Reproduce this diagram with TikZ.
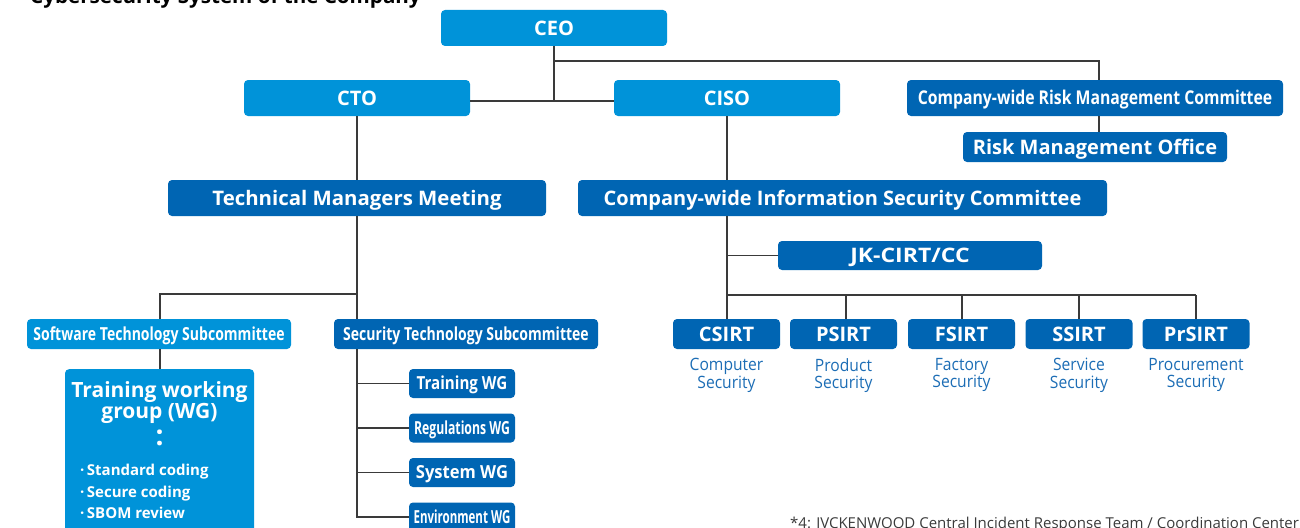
\documentclass[tikz,border=0pt]{standalone}
\usepackage{fontspec}
\setmainfont{Open Sans}
\usepackage{graphicx}
\definecolor{lblue}{HTML}{0093D9}
\definecolor{dblue}{HTML}{0065B3}
\definecolor{txtblue}{HTML}{1C6DB5}
\definecolor{linec}{HTML}{3A3A3A}
\tikzset{
  base/.style={rounded corners=4pt, text=white, inner sep=0pt, align=center, text depth=0pt},
  lbox/.style={base, fill=lblue},
  dbox/.style={base, fill=dblue},
  f20/.style={font=\bfseries\fontsize{20}{22}\selectfont, text height=14.3pt},
  f19/.style={font=\bfseries\fontsize{19}{22}\selectfont, text height=13.6pt},
  f18/.style={font=\bfseries\fontsize{18}{22}\selectfont, text height=12.9pt},
  conn/.style={draw=linec, line width=1.2pt},
  sub/.style={text=txtblue, align=center, font=\fontsize{17}{17.5}\selectfont, inner sep=0pt}
}
\newcommand\cond[2][0.8]{\scalebox{#1}[1]{#2}}
\begin{document}
\begin{tikzpicture}[x=1pt,y=-1pt]
\useasboundingbox (0,0) rectangle (1300,527);
% title (cut at top)
\node[anchor=base west, inner sep=0pt, font=\bfseries\fontsize{20}{22}\selectfont] (title) at (30,3.5) {\cond[1.03]{Cybersecurity System of the Company}};
% top level
\node[lbox, f20, minimum width=226pt, minimum height=36pt] (ceo) at (554,28) {CEO};
\node[lbox, f20, minimum width=226pt, minimum height=36pt] (cto) at (357,98) {CTO};
\node[lbox, f20, minimum width=226pt, minimum height=36pt] (ciso) at (727,98) {CISO};
\node[dbox, f19, minimum width=376pt, minimum height=36pt] (rmc) at (1095,98) {\cond[0.83]{Company-wide Risk Management Committee}};
\node[dbox, f20, minimum width=264pt, minimum height=30pt] (rmo) at (1095,147) {Risk Management Office};
% second level
\node[dbox, f20, minimum width=378pt, minimum height=36pt] (tmm) at (357,198) {\cond[1.02]{Technical Managers Meeting}};
\node[dbox, f20, minimum width=529pt, minimum height=36pt] (isc) at (842.5,198) {Company-wide Information Security Committee};
\node[dbox, f20, minimum width=264pt, minimum height=29pt] (jk) at (910,255.5) {\cond[1.15]{JK-CIRT/CC}};
% SIRTs
\foreach \n/\t/\x in {cs/CSIRT/726.5, ps/PSIRT/843.5, fs/FSIRT/961.5, ss/SSIRT/1079, pr/PrSIRT/1196}{
  \node[dbox, f20, minimum width=107pt, minimum height=30pt] (\n) at (\x,334) {\t};
}
\node[sub, anchor=north] (csl) at (cs.south |- 0,358) {\cond[0.92]{Computer}\\\cond[0.92]{Security}};
\node[sub, anchor=north] (psl) at (ps.south |- 0,358) {\cond[0.92]{Product}\\\cond[0.92]{Security}};
\node[sub, anchor=north] (fsl) at (fs.south |- 0,358) {\cond[0.92]{Factory}\\\cond[0.92]{Security}};
\node[sub, anchor=north] (ssl) at (ss.south |- 0,358) {\cond[0.92]{Service}\\\cond[0.92]{Security}};
\node[sub, anchor=north] (prl) at (pr.south |- 0,358) {\cond[0.92]{Procurement}\\\cond[0.92]{Security}};
% subcommittees
\node[lbox, f18, minimum width=264pt, minimum height=30pt] (swt) at (159,334) {\cond[0.78]{Software Technology Subcommittee}};
\node[dbox, f18, minimum width=264pt, minimum height=30pt] (sct) at (466,334) {\cond[0.78]{Security Technology Subcommittee}};
% training working group box
\node[lbox, anchor=north, minimum width=189pt, minimum height=170pt] (twg) at (159.5,369) {};
\node[anchor=north, text=white, align=center, inner sep=0pt, font=\bfseries\fontsize{21}{21}\selectfont] (twgt) at (159.5,381) {Training working\\group (WG)};
\node[anchor=center, text=white, inner sep=0pt, font=\bfseries\fontsize{28}{28}\selectfont] (twgd) at (159.5,438) {:};
\node[anchor=north west, text=white, align=left, inner sep=0pt, font=\bfseries\fontsize{15}{21.5}\selectfont] (twgl) at (80,464) {·\,Standard coding\\·\,Secure coding\\·\,SBOM review};
% WGs
\node[dbox, f18, minimum width=106pt, minimum height=29pt] (wg1) at (462,383.5) {\cond[0.84]{Training WG}};
\node[dbox, f18, minimum width=106pt, minimum height=29pt] (wg2) at (462,428) {\cond[0.68]{Regulations WG}};
\node[dbox, f18, minimum width=106pt, minimum height=29pt] (wg3) at (462,472.5) {\cond[0.92]{System WG}};
\node[dbox, f18, minimum width=106pt, minimum height=29pt] (wg4) at (462,517) {\cond[0.64]{Environment WG}};
% footnote
\node[anchor=base west, inner sep=0pt, text=linec, font=\fontsize{15}{16}\selectfont] (fn) at (790,528) {*4: JVCKENWOOD Central Incident Response Team / Coordination Center};
% connectors
\coordinate (j1) at (554,101);
\coordinate (j2) at (554,61);
\coordinate (j3) at (1099,61);
\draw[conn] (ceo.south) -- (j1);
\draw[conn] (cto.east |- j1) -- (ciso.west |- j1);
\draw[conn] (j2) -- (j3) -- (j3 |- rmc.north);
\draw[conn] (j3 |- rmc.south) -- (j3 |- rmo.north);
\draw[conn] (cto.south) -- (tmm.north);
\draw[conn] (ciso.south) -- (ciso.south |- isc.north);
% TMM tree
\coordinate (t1) at (357,294);
\coordinate (t2) at (160,294);
\draw[conn] (tmm.south) -- (t1) -- (t1 |- sct.north);
\draw[conn] (t1) -- (t2) -- (t2 |- swt.north);
\draw[conn] (t2 |- swt.south) -- (t2 |- twg.north);
\draw[conn] (t1 |- sct.south) -- (t1 |- wg4.west) -- (wg4.west);
\foreach \w in {wg1,wg2,wg3}{\draw[conn] (t1 |- \w.west) -- (\w.west);}
% ISC tree
\coordinate (c1) at (727,295);
\coordinate (c0) at (727,216);
\draw[conn] (c0) -- (c0 |- cs.north);
\draw[conn] (c0 |- jk.west) -- (jk.west);
\coordinate (c2) at (1196,295);
\draw[conn] (c1) -- (c2);
\foreach \s/\x in {ps/846,fs/962,ss/1079,pr/1196}{\draw[conn] (\x,295) -- (\x,295 |- \s.north);}
\end{tikzpicture}
\end{document}
